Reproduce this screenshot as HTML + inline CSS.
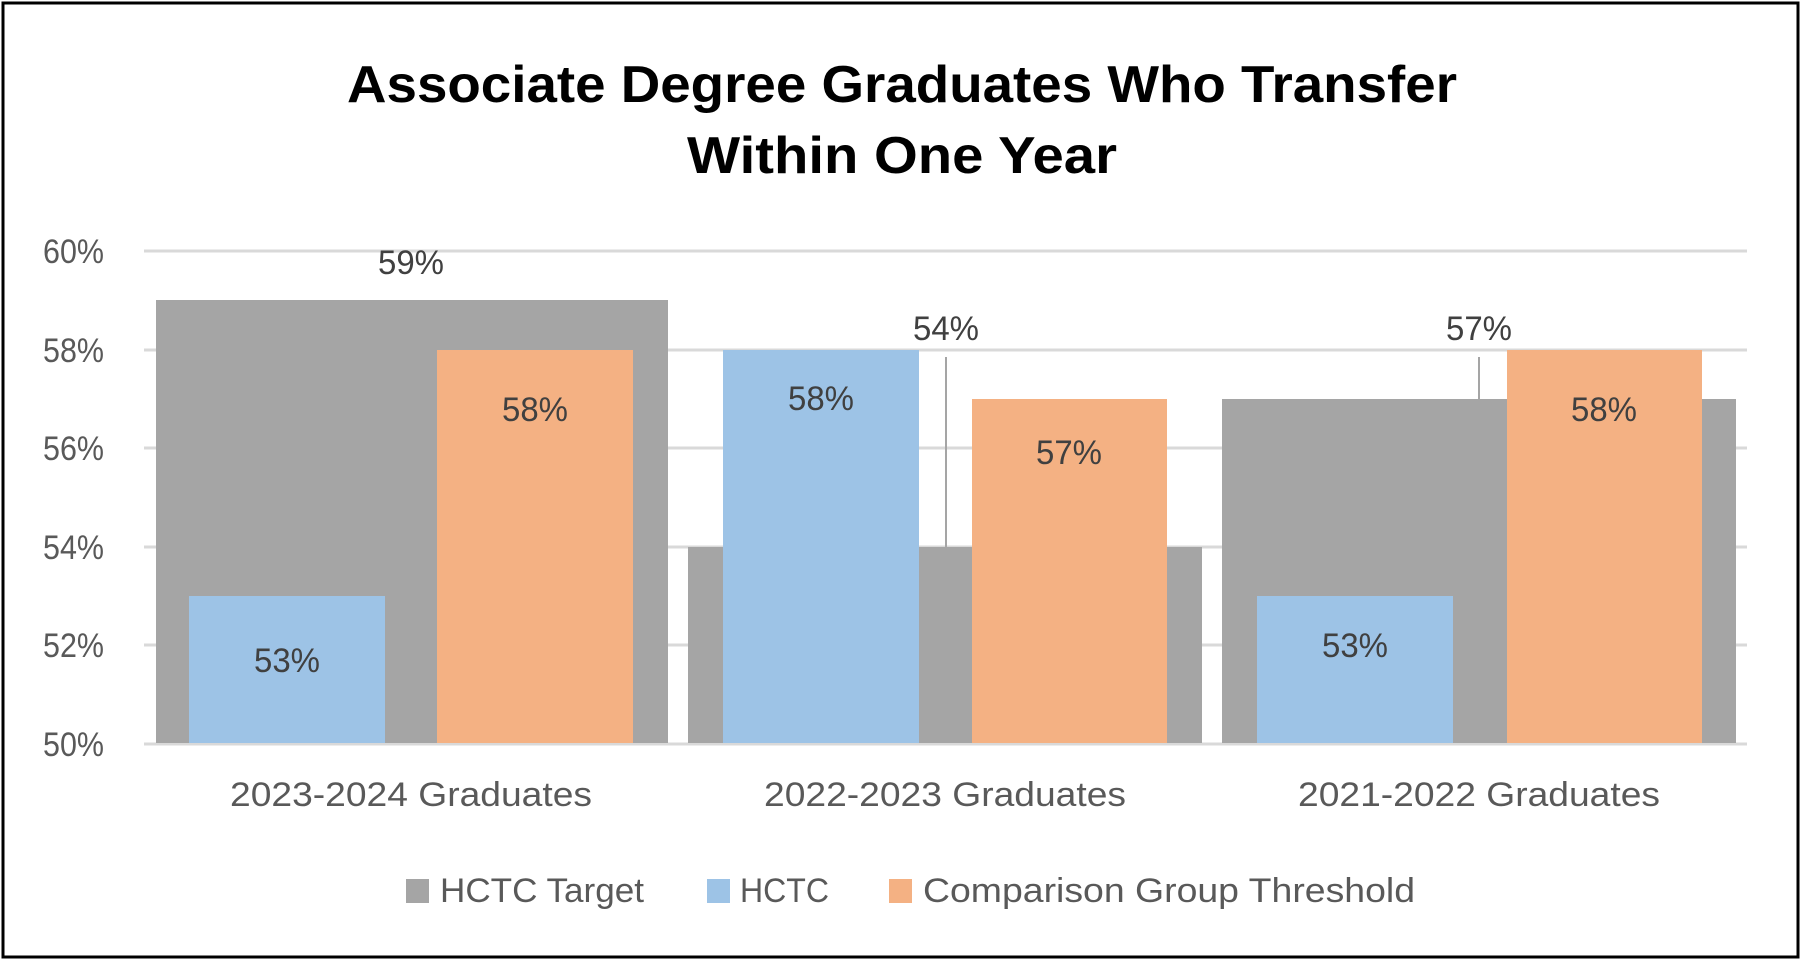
<!DOCTYPE html>
<html><head><meta charset="utf-8"><style>
html,body{margin:0;padding:0;background:#fff;}
svg{display:block;}
text{font-family:"Liberation Sans",sans-serif;}
</style></head><body>
<svg width="1805" height="962" viewBox="0 0 1805 962" xmlns="http://www.w3.org/2000/svg">
<rect x="3" y="3" width="1795" height="954" fill="#fff" stroke="#000" stroke-width="3"/>
<g font-weight="bold" fill="#000" font-size="52" text-anchor="middle">
<text x="902" y="102" textLength="1110" lengthAdjust="spacingAndGlyphs">Associate Degree Graduates Who Transfer</text>
<text x="902" y="173" textLength="430" lengthAdjust="spacingAndGlyphs">Within One Year</text>
</g>
<g stroke="#d9d9d9" stroke-width="3">
<line x1="144" x2="1747" y1="251" y2="251"/>
<line x1="144" x2="1747" y1="350" y2="350"/>
<line x1="144" x2="1747" y1="448" y2="448"/>
<line x1="144" x2="1747" y1="547" y2="547"/>
<line x1="144" x2="1747" y1="645" y2="645"/>
<line x1="144" x2="1747" y1="744" y2="744"/>
</g>
<g fill="#595959" font-size="34" text-anchor="end">
<text x="104" y="263" textLength="61" lengthAdjust="spacingAndGlyphs">60%</text>
<text x="104" y="362" textLength="61" lengthAdjust="spacingAndGlyphs">58%</text>
<text x="104" y="460" textLength="61" lengthAdjust="spacingAndGlyphs">56%</text>
<text x="104" y="559" textLength="61" lengthAdjust="spacingAndGlyphs">54%</text>
<text x="104" y="657" textLength="61" lengthAdjust="spacingAndGlyphs">52%</text>
<text x="104" y="756" textLength="61" lengthAdjust="spacingAndGlyphs">50%</text>
</g>
<g fill="#a5a5a5">
<rect x="156" y="300" width="512" height="443"/>
<rect x="688" y="547" width="514" height="196"/>
<rect x="1222" y="399" width="514" height="344"/>
</g>
<g fill="#9dc3e6">
<rect x="189" y="596" width="196" height="147"/>
<rect x="723" y="350" width="196" height="393"/>
<rect x="1257" y="596" width="196" height="147"/>
</g>
<g fill="#f4b183">
<rect x="437" y="350" width="196" height="393"/>
<rect x="972" y="399" width="195" height="344"/>
<rect x="1507" y="350" width="195" height="393"/>
</g>
<g stroke="#a5a5a5" stroke-width="2">
<line x1="946" y1="357" x2="946" y2="547"/>
<line x1="1479" y1="357" x2="1479" y2="399"/>
</g>
<g fill="#404040" font-size="34" text-anchor="middle">
<text x="411" y="274" textLength="66" lengthAdjust="spacingAndGlyphs">59%</text>
<text x="946" y="340" textLength="66" lengthAdjust="spacingAndGlyphs">54%</text>
<text x="1479" y="340" textLength="66" lengthAdjust="spacingAndGlyphs">57%</text>
<text x="287" y="672" textLength="66" lengthAdjust="spacingAndGlyphs">53%</text>
<text x="535" y="421" textLength="66" lengthAdjust="spacingAndGlyphs">58%</text>
<text x="821" y="410" textLength="66" lengthAdjust="spacingAndGlyphs">58%</text>
<text x="1069" y="464" textLength="66" lengthAdjust="spacingAndGlyphs">57%</text>
<text x="1355" y="657" textLength="66" lengthAdjust="spacingAndGlyphs">53%</text>
<text x="1604" y="421" textLength="66" lengthAdjust="spacingAndGlyphs">58%</text>
</g>
<g fill="#595959" font-size="34" text-anchor="middle">
<text x="411" y="806" textLength="362" lengthAdjust="spacingAndGlyphs">2023-2024 Graduates</text>
<text x="945" y="806" textLength="362" lengthAdjust="spacingAndGlyphs">2022-2023 Graduates</text>
<text x="1479" y="806" textLength="362" lengthAdjust="spacingAndGlyphs">2021-2022 Graduates</text>
</g>
<rect x="406" y="879" width="23" height="24" fill="#a5a5a5"/>
<rect x="707" y="879" width="23" height="24" fill="#9dc3e6"/>
<rect x="889" y="879" width="23" height="24" fill="#f4b183"/>
<g fill="#595959" font-size="34">
<text x="440" y="902" textLength="204" lengthAdjust="spacingAndGlyphs">HCTC Target</text>
<text x="740" y="902" textLength="89" lengthAdjust="spacingAndGlyphs">HCTC</text>
<text x="923" y="902" textLength="492" lengthAdjust="spacingAndGlyphs">Comparison Group Threshold</text>
</g>
</svg>
</body></html>
